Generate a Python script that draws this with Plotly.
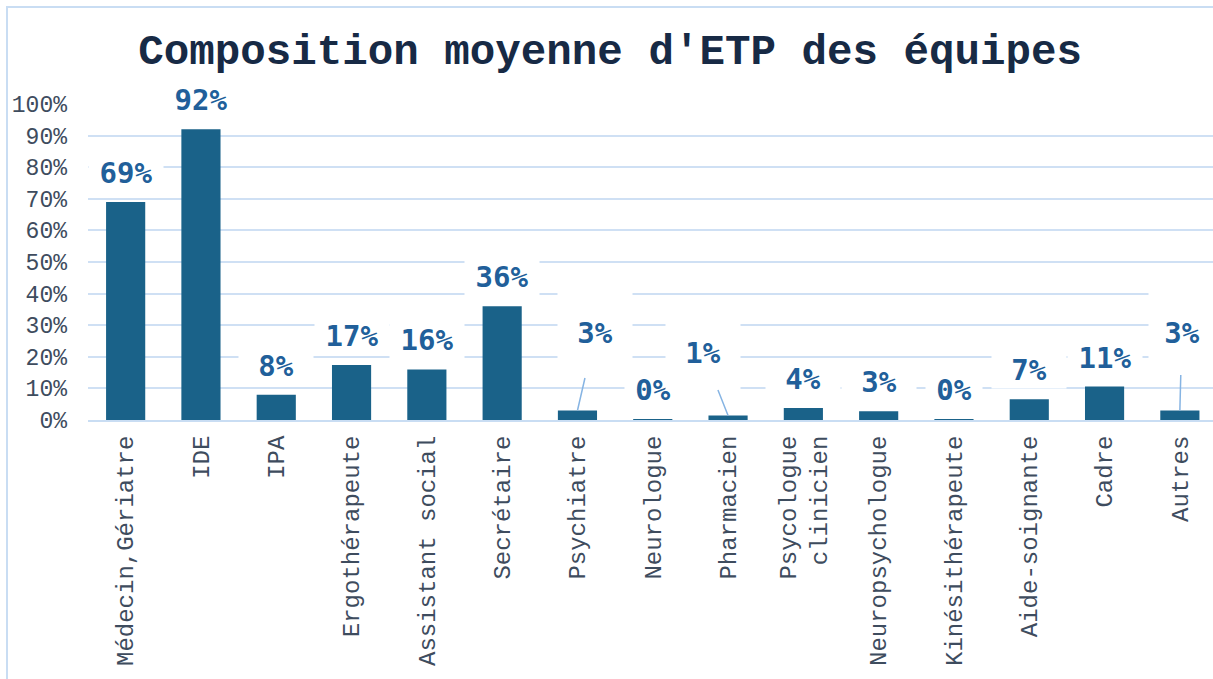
import plotly.graph_objects as go

categories = ["Médecin,Gériatre", "IDE", "IPA", "Ergothérapeute", "Assistant social",
              "Secrétaire", "Psychiatre", "Neurologue", "Pharmacien", "Psycologue<br>clinicien",
              "Neuropsychologue", "Kinésithérapeute", "Aide-soignante", "Cadre", "Autres"]
values = [0.69, 0.92, 0.08, 0.174, 0.16, 0.36, 0.03, 0.003, 0.014, 0.038, 0.028, 0.002, 0.066, 0.106, 0.03]
y_ticks = [0, 0.1, 0.2, 0.3, 0.4, 0.5, 0.6, 0.7, 0.8, 0.9, 1.0]

# label placement: (ax, ay, width, height) for labels with leader lines
leaders = {6: (18, -78, 74, 90), 8: (-25, -63, 74, 74), 14: (2, -78, 66, 84)}
narrow = {7, 11}

W, H = 1213, 679
L, R, T, B = 88, 0, 104, 259

fig = go.Figure()
fig.add_trace(go.Bar(
    x=list(range(len(categories))), y=values,
    marker=dict(color="#1a6289", line=dict(width=0)),
    hoverinfo="skip",
))

label_font = dict(family="DejaVu Sans Mono", size=29, color="#215f9a")
for i, v in enumerate(values):
    txt = "<b>%d%%</b>" % round(v * 100)
    if i in leaders:
        ax, ay, w, h = leaders[i]
        fig.add_annotation(x=i, y=v, text=txt, showarrow=True, ax=ax, ay=ay,
                           arrowhead=0, arrowwidth=1.5, arrowcolor="#86b4e3",
                           standoff=0, width=w, height=h, bgcolor="white",
                           borderpad=0, font=label_font)
    else:
        fig.add_annotation(x=i, y=v, text=txt, showarrow=False, yanchor="bottom",
                           yshift=10, width=(56 if i in narrow else 74), height=36,
                           bgcolor="white", borderpad=0, font=label_font)

# outer frame
pw, ph = W - L - R, H - T - B
fig.add_shape(type="rect", xref="paper", yref="paper",
              x0=(7 - L) / pw, x1=(1230 - L) / pw,
              y0=(H - B - 700) / ph, y1=(H - B - 7) / ph,
              line=dict(color="#c9ddf3", width=2), fillcolor="rgba(0,0,0,0)", layer="below")

fig.update_layout(
    width=W, height=H,
    margin=dict(l=L, r=R, t=T, b=B),
    paper_bgcolor="white", plot_bgcolor="white",
    showlegend=False,
    bargap=0.48,
    title=dict(text="<b>Composition moyenne d'ETP des équipes</b>",
               font=dict(family="Liberation Mono", size=42.5, color="#172a45"),
               x=0.503, xref="container", xanchor="center",
               y=1 - 49 / H, yref="container", yanchor="middle"),
    xaxis=dict(range=[-0.5, 14.44], tickmode="array",
               tickvals=list(range(len(categories))), ticktext=categories,
               tickangle=-90, showgrid=False, showline=True, linecolor="#c9ddf3",
               linewidth=2, ticks="", ticklabelstandoff=4,
               tickfont=dict(family="Liberation Mono", size=24, color="#3e4c5e")),
    yaxis=dict(range=[0, 1.0], tickvals=y_ticks, tickformat=".0%",
               showgrid=True, gridcolor="#cfe0f4", gridwidth=2, zeroline=False,
               ticks="", ticklabelstandoff=20,
               tickfont=dict(family="Liberation Mono", size=23, color="#3e4c5e")),
)

fig.write_html("out.html", config={"displayModeBar": False},
               post_script="document.body.style.margin='0';document.body.style.overflow='hidden';")
